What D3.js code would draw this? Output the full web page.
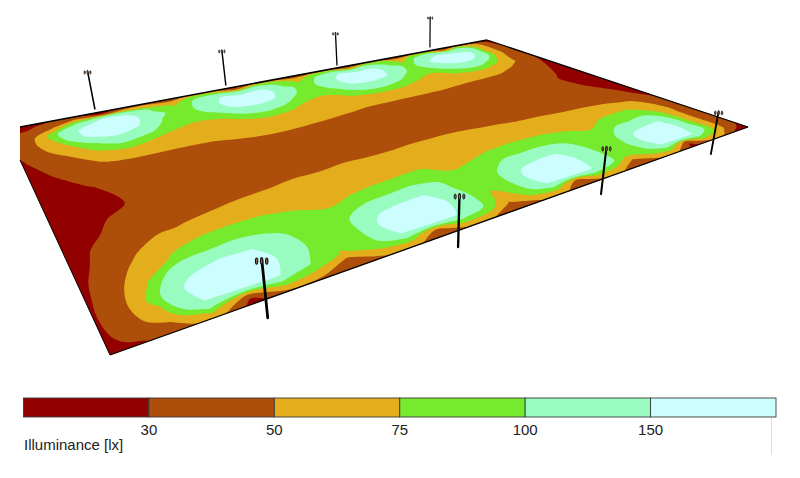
<!DOCTYPE html>
<html><head><meta charset="utf-8">
<script src="https://cdn.jsdelivr.net/npm/d3@7"></script>
<style>html,body{margin:0;padding:0;background:#fff}svg{display:block}text{font-family:"Liberation Sans",Arial,sans-serif}</style>
</head><body><svg id="c" width="800" height="478"></svg>
<script>
// illuminance levels and legend
const levels = [30, 50, 75, 100, 150];
const levelColors = ["#930000", "#ad4f0a", "#e4ad1b", "#76ea2c", "#98fbc0", "#ccfdff"];
const legendLabels = ["30", "50", "75", "100", "150"];
// sample positions on the field (fraction of length, fraction of width)
const uStops = [0,.03,.06,.1,.14,.18,.22,.26,.3,.34,.38,.42,.46,.5,.54,.58,.62,.66,.7,.74,.78,.82,.86,.9,.94,.97,1];
const vStops = [0,.02,.05,.1,.15,.2,.25,.3,.35,.45,.55,.65,.7,.75,.8,.85,.9,.95,.97,.985,1];
// illuminance readings, one row per vStop
const r00 = [20,24,30,36,18,36,42,34,58,55,22,48,48,34,50,55,28,50,52,30,50,60,25,50,40,28,20];
const r01 = [24,28,36,50,35,60,60,52,92,85,42,90,82,52,85,90,48,90,85,50,85,95,42,85,62,40,24];
const r02 = [29,33,46,100,150,145,95,72,108,145,130,145,95,72,105,145,135,145,95,70,110,145,135,140,76,44,27];
const r03 = [33,48,92,160,178,165,108,85,112,165,178,168,110,85,118,168,178,165,115,85,145,172,178,155,72,44,32];
const r04 = [33,50,78,155,172,152,98,78,105,152,165,152,102,80,110,158,165,152,105,80,125,158,162,140,68,42,31];
const r05 = [31,46,60,100,140,112,85,76,80,108,128,108,82,76,90,120,128,108,85,76,92,118,122,90,55,38,30.5];
const r06 = [28,37,50,76,88,78,68,62,65,78,85,78,66,62,75,82,84,78,70,62,74,80,78,65,50,36,29.5];
const r07 = [27,32,40,57,65,62,58,56,58,62,64,62,58,57,60,62,62,61,58,56,58,59,56,48,40,32,28];
const r08 = [26,30,34,44,47,48,49,50,52,54,54,53,52,51,50,50,50,50,50,49,47,45,43,39,35,30,27];
const r09 = [24,26,29,33,36,38,40,41,42,42,42,42,42,42,41,41,41,41,40,40,38,37,35,33,29,26,24];
const r10 = [22,24,27,31,34,38,41,43,44,44,44,43,43,43,43,43,43,43,43,42,41,39,37,34,30,26,23];
const r11 = [21,27,33,38,42,45,48,50,51,51,52,52,52,53,53,53,52,51,50,49,47,46,44,42,35,31,25];
const r12 = [23,31,40,47,52,56,60,62,62,62,64,64,64,64,64,64,64,64,63,60,58,56,55,52,48,38,28];
const r13 = [25,33,45,66,73,76,76,72,70,71,73,75,76,71,71,74,76,76,75,70,69,73,75,76,60,45,34];
const r14 = [26,38,56,78,88,97,96,84,76,82,92,100,98,76,80,92,97,99,96,84,76,84,92,98,72,50,36];
const r15 = [27,42,72,130,152,150,104,88,92,135,148,150,103,78,92,138,148,150,108,85,84,140,148,150,80,46,36];
const r16 = [28,45,88,170,190,175,106,88,95,170,185,175,108,80,100,168,185,170,115,85,100,165,182,165,82,46,35];
const r17 = [27,42,66,150,155,155,100,72,85,150,158,155,108,60,85,150,158,158,115,75,80,150,158,150,85,46,31];
const r18 = [26,38,52,110,55,100,78,45,78,100,55,100,90,48,78,100,52,100,85,48,78,100,50,100,76,42,28];
const r19 = [26,33,42,78,30,68,58,35,62,70,36,70,62,36,60,70,34,68,60,36,60,72,28,70,58,34,25];
const r20 = [25,28,38,60,20,45,44,30,50,55,32,52,50,32,50,55,32,52,50,32,50,52,22,50,46,27,20];
const rows = [r00,r01,r02,r03,r04,r05,r06,r07,r08,r09,r10,r11,r12,r13,r14,r15,r16,r17,r18,r19,r20];
// light poles, on the field
const poleU = [.14,.375,.613,.854,.141,.377,.616,.853];
const poleV = [-.035,-.033,-.028,-.037,1.045,1.045,1.046,1.049];

// camera: the field's corners on screen and the direction of the poles
const cornerX = [6,487,748,110], cornerY = [130,40,127,355];
const poleVanish = [417,1771], poleLift = -0.024;

const svg = d3.select("#c");
const [x0,x1,x2,x3]=cornerX, [y0,y1,y2,y3]=cornerY;
const det=(a,b,c,d)=>a*d-b*c;
const dx1=x1-x2,dx2=x3-x2,dy1=y1-y2,dy2=y3-y2,sx=x0-x1+x2-x3,sy=y0-y1+y2-y3;
const den=det(dx1,dx2,dy1,dy2);
const g=det(sx,dx2,sy,dy2)/den,h=det(dx1,sx,dy1,sy)/den;
const a=x1-x0+g*x1,b=x3-x0+h*x3,d=y1-y0+g*y1,e=y3-y0+h*y3;
const project=(u,v,R=0)=>{const W=1+g*u+h*v;
  return [(a*u+b*v+x0+poleVanish[0]*R)/(W+R),(d*u+e*v+y0+poleVanish[1]*R)/(W+R),W];};

const nx=uStops.length, ny=vStops.length;
const uScale=d3.scaleLinear().domain(uStops.map((_,i)=>i+.5)).range(uStops);
const vScale=d3.scaleLinear().domain(vStops.map((_,i)=>i+.5)).range(vStops);
const contours=d3.contours().size([nx,ny]).smooth(true).thresholds(levels)(rows.flat());
const line=d3.line().curve(d3.curveCatmullRomClosed.alpha(.5));

const defs=svg.append("defs");
defs.append("clipPath").attr("id","plate").append("path")
  .attr("d","M"+cornerX.map((x,i)=>[Math.max(x,20),i===0?127:cornerY[i]].join(",")).join("L")+"L20,160Z");

const field=svg.append("g").attr("clip-path","url(#plate)");
field.append("rect").attr("width",800).attr("height",478).attr("fill",levelColors[0]);
field.selectAll("path.band").data(contours).join("path").attr("class","band")
  .attr("fill",(c,i)=>levelColors[i+1])
  .attr("d",c=>c.coordinates.flatMap(poly=>poly.map(ring=>{
     const pts=ring.slice(0,-1).map(([x,y])=>project(uScale(x),vScale(y)).slice(0,2));
     return line(pts);
  })).join(""));

// outline
const edge=(p,q,w)=>svg.append("line").attr("x1",p[0]).attr("y1",p[1]).attr("x2",q[0]).attr("y2",q[1]).attr("stroke","#000").attr("stroke-width",w);
edge([20,127],[x1,y1],1.6);edge([x1,y1],[x2,y2],1.3);edge([x2,y2],[x3,y3],1.3);edge([x3,y3],[20,160],1);

// poles
const poles=svg.append("g").selectAll("g").data(poleU.map((u,i)=>({u,v:poleV[i]}))).join("g");
poles.each(function(p){
  const foot=project(p.u,p.v),top=project(p.u,p.v,poleLift),s=1/foot[2],g0=d3.select(this);
  g0.append("line").attr("x1",foot[0]).attr("y1",foot[1]).attr("x2",top[0]).attr("y2",top[1])
    .attr("stroke","#000").attr("stroke-width",1.7*s).attr("stroke-linecap","round");
  [-3.1,0,3.1].forEach(k=>{
    g0.append("ellipse").attr("cx",top[0]+k*s).attr("cy",top[1]+1.5*s).attr("rx",.75*s).attr("ry",1.9*s)
      .attr("fill","#8a6a50").attr("stroke","#111").attr("stroke-width",.65*s);
  });
});

// legend
const legendX=d3.scaleLinear().domain([0,levelColors.length]).range([23.5,776]);
const legend=svg.append("g");
legend.selectAll("rect").data(levelColors).join("rect")
  .attr("x",(c,i)=>legendX(i)).attr("y",398).attr("width",(c,i)=>legendX(i+1)-legendX(i)).attr("height",19)
  .attr("fill",c=>c).attr("stroke","#3a3a3a").attr("stroke-width",.9);
legend.selectAll("text.t").data(legendLabels).join("text").attr("class","t")
  .attr("x",(t,i)=>legendX(i+1)).attr("y",435).attr("text-anchor","middle")
  .attr("font-size",15).attr("fill","#222").text(t=>t);
legend.append("text").attr("x",24).attr("y",450).attr("font-size",15).attr("fill","#222").text("Illuminance [lx]");
legend.append("line").attr("x1",771.5).attr("x2",771.5).attr("y1",418).attr("y2",455).attr("stroke","#ddd").attr("stroke-width",1);
</script></body></html>
